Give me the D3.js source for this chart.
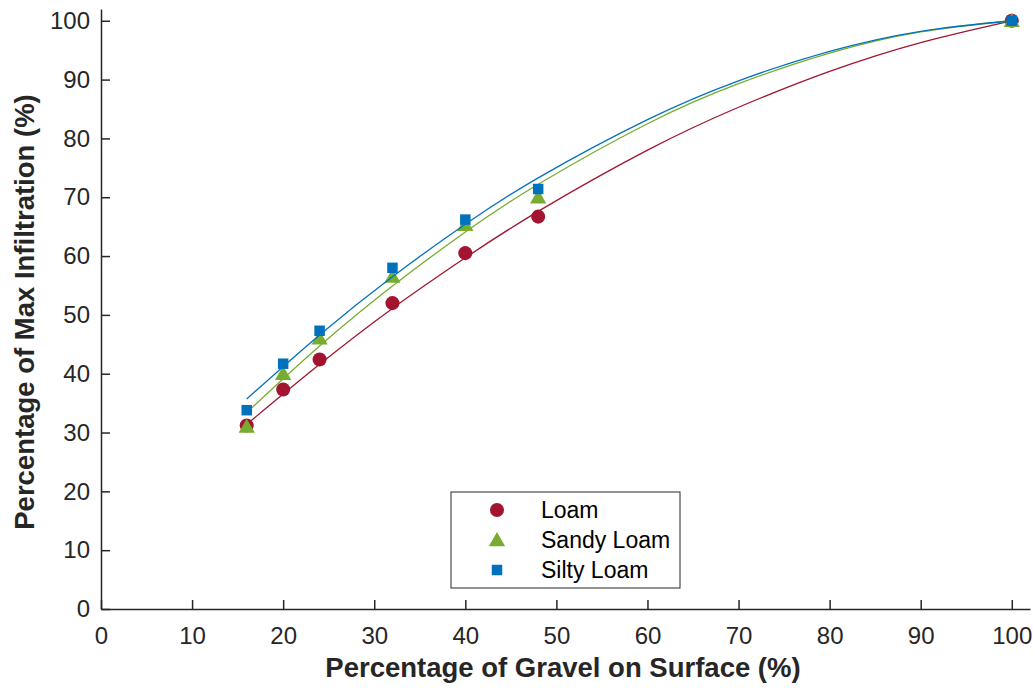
<!DOCTYPE html>
<html lang="en">
<head>
<meta charset="UTF-8">
<title>Gravel vs Max Infiltration</title>
<script src="https://d3js.org/d3.v7.min.js"></script>
<style>
  body { margin: 0; background: #fff; }
  svg { display: block; font-family: "Liberation Sans", Arial, sans-serif; }
  .tick text { fill: #262626; font-size: 24px; }
  .axis-title { fill: #262626; font-size: 27.5px; font-weight: bold; }
  .legend-text { fill: #000; font-size: 23px; }
</style>
</head>
<body>
<div id="chart"></div>
<script>
// measured points
const gravel = [16, 20, 24, 32, 40, 48, 100];
const loam = [31.2, 37.3, 42.4, 52.0, 60.5, 66.7, 100];
const sandyLoam = [31.0, 40.0, 46.0, 56.5, 65.3, 70.0, 100];
const siltyLoam = [33.8, 41.7, 47.3, 58.0, 66.2, 71.4, 100];

// fitted curves
const fitX = [16, 24, 32, 40, 48, 60, 70, 80, 90, 100];
const loamFit = [31.4, 41.6, 51.1, 59.7, 67.6, 78.0, 85.3, 91.4, 96.3, 100];
const sandyFit = [33.4, 44.7, 54.9, 64.1, 72.2, 82.5, 89.3, 94.5, 98.1, 100];
const siltyFit = [35.7, 46.6, 56.5, 65.4, 73.3, 83.2, 89.8, 94.8, 98.2, 100];

const xTicks = [0, 10, 20, 30, 40, 50, 60, 70, 80, 90, 100];
const yTicks = [0, 10, 20, 30, 40, 50, 60, 70, 80, 90, 100];

const series = [
  {name: "Loam", values: loam, fit: loamFit, color: "#A2142F", shape: "circle"},
  {name: "Sandy Loam", values: sandyLoam, fit: sandyFit, color: "#77AC30", shape: "triangle"},
  {name: "Silty Loam", values: siltyLoam, fit: siltyFit, color: "#0072BD", shape: "square"}
];

const W = 1036, H = 690;
const margin = {top: 9, right: 6, bottom: 81, left: 101};

const svg = d3.select("#chart").append("svg")
  .attr("width", W).attr("height", H);

const x = d3.scaleLinear().domain([0, 102]).range([margin.left, W - margin.right]);
const y = d3.scaleLinear().domain([0, 102]).range([H - margin.bottom, margin.top]);

// axes
const xAxis = svg.append("g")
  .attr("transform", `translate(0,${H - margin.bottom})`)
  .call(d3.axisBottom(x).tickValues(xTicks).tickSizeInner(-9).tickSizeOuter(0).tickPadding(18));

const yAxis = svg.append("g")
  .attr("transform", `translate(${margin.left},0)`)
  .call(d3.axisLeft(y).tickValues(yTicks).tickSizeInner(-9).tickSizeOuter(0).tickPadding(11));

[xAxis, yAxis].forEach(a => {
  a.attr("font-size", null).attr("font-family", null);
  a.select(".domain").attr("stroke", "#262626").attr("stroke-width", 1.5);
  a.selectAll(".tick line").attr("stroke", "#262626").attr("stroke-width", 1.5);
});

// axis titles
svg.append("text")
  .attr("class", "axis-title")
  .attr("x", 563)
  .attr("y", 677)
  .attr("text-anchor", "middle")
  .text("Percentage of Gravel on Surface (%)");

svg.append("text")
  .attr("class", "axis-title")
  .attr("transform", `translate(34,312) rotate(-90)`)
  .attr("text-anchor", "middle")
  .text("Percentage of Max Infiltration (%)");

const symbols = {
  circle: d3.symbol().type(d3.symbolCircle).size(155),
  triangle: d3.symbol().type(d3.symbolTriangle).size(115),
  square: d3.symbol().type(d3.symbolSquare).size(110)
};

const line = d3.line().curve(d3.curveNatural);

series.forEach(s => {
  svg.append("g").selectAll("path")
    .data(s.values)
    .join("path")
    .attr("transform", (d, i) => `translate(${x(gravel[i])},${y(d) + (s.shape === "triangle" ? 1.5 : 0)})`)
    .attr("d", symbols[s.shape])
    .attr("fill", s.color);

  svg.append("path")
    .datum(s.fit)
    .attr("fill", "none")
    .attr("stroke", s.color)
    .attr("stroke-width", 1.3)
    .attr("d", line.x((d, i) => x(fitX[i])).y(d => y(d)));
});

// legend
const legend = svg.append("g").attr("transform", "translate(451,492)");
legend.append("rect")
  .attr("width", 229).attr("height", 96)
  .attr("fill", "#fff").attr("stroke", "#262626").attr("stroke-width", 1);

series.forEach((s, i) => {
  const cy = 18 + i * 30;
  legend.append("path")
    .attr("transform", `translate(46,${cy + (s.shape === "triangle" ? 1.5 : 0)})`)
    .attr("d", symbols[s.shape])
    .attr("fill", s.color);
  legend.append("text")
    .attr("class", "legend-text")
    .attr("x", 90)
    .attr("y", cy + 8)
    .text(s.name);
});
</script>
</body>
</html>
